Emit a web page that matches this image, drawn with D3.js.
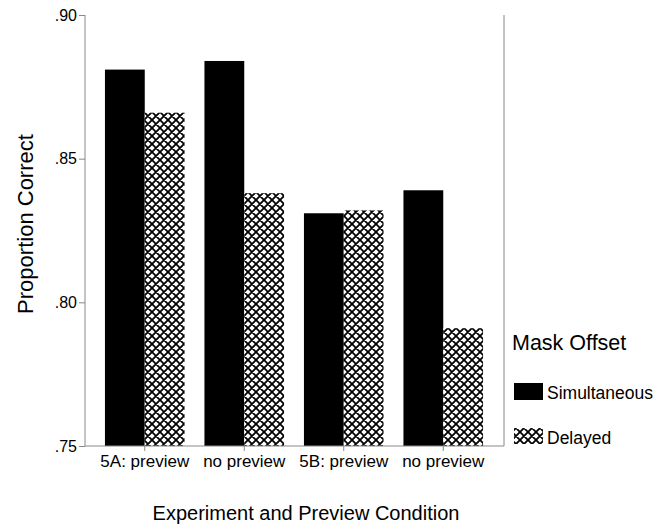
<!DOCTYPE html>
<html><head><meta charset="utf-8">
<script src="https://cdn.jsdelivr.net/npm/d3@7"></script>
<style>body{margin:0;background:#fff}svg{display:block}text{font-family:"Liberation Sans",Arial,sans-serif}</style>
</head><body><div id="chart"></div>
<script>
const categories = ["5A: preview", "no preview", "5B: preview", "no preview"];
const seriesNames = ["Simultaneous", "Delayed"];
const simultaneous = [0.881, 0.884, 0.831, 0.839];
const delayed = [0.866, 0.838, 0.832, 0.791];
const yTicks = [0.75, 0.80, 0.85, 0.90];
const yTickLabels = [".75", ".80", ".85", ".90"];

const W = 666, H = 525;
const svg = d3.select("#chart").append("svg").attr("width", W).attr("height", H);
const defs = svg.append("defs");
const pat = defs.append("pattern").attr("id","hatch").attr("patternUnits","userSpaceOnUse")
  .attr("width",8).attr("height",8);
pat.append("rect").attr("width",8).attr("height",8).attr("fill","#fff");
pat.append("path").attr("d","M-2,2 L2,-2 M0,8 L8,0 M6,10 L10,6 M-2,6 L2,10 M0,0 L8,8 M6,-2 L10,2")
  .attr("stroke","#000").attr("stroke-width",1.8);

const x0 = 85, x1 = 504, yTop = 15, yBot = 446;
const x = d3.scaleBand().domain(d3.range(categories.length)).range([95, 493]).paddingInner(0.2).paddingOuter(0.1);
const xs = d3.scaleBand().domain([0,1]).range([0, x.bandwidth()]);
const y = d3.scaleLinear().domain([0.75, 0.90]).range([yBot, yTop]);

const series = [simultaneous, delayed];
const fills = ["#000", "url(#hatch)"];
series.forEach((vals, si) => {
  svg.append("g").selectAll("rect").data(vals).join("rect")
    .attr("x", (d,i) => x(i) + xs(si))
    .attr("width", xs.bandwidth())
    .attr("y", d => y(d))
    .attr("height", d => yBot - y(d))
    .attr("fill", fills[si]);
});

// axes
const axisColor = "#888";
const yAxis = svg.append("g").attr("transform", `translate(${x0},0)`)
  .call(d3.axisLeft(y).tickValues(yTicks).tickFormat((d,i)=>yTickLabels[i]).tickSize(6).tickPadding(2));
yAxis.select(".domain").remove();
yAxis.append("line").attr("x1",0).attr("x2",0).attr("y1",yTop).attr("y2",yBot).attr("stroke",axisColor);
yAxis.selectAll(".tick line").attr("stroke", axisColor);
yAxis.selectAll(".tick text").attr("font-size", 16).attr("fill","#000").attr("font-family","Liberation Sans, Arial, sans-serif");

const xAxis = svg.append("g").attr("transform", `translate(0,${yBot})`)
  .call(d3.axisBottom(x).tickFormat(i => categories[i]).tickSize(5).tickPadding(4));
xAxis.select(".domain").remove();
xAxis.append("line").attr("x1",x0).attr("x2",x1).attr("y1",0).attr("y2",0).attr("stroke",axisColor);
xAxis.selectAll(".tick line").attr("stroke", axisColor);
xAxis.selectAll(".tick text").attr("font-size", 17).attr("fill","#000").attr("font-family","Liberation Sans, Arial, sans-serif");

svg.append("line").attr("x1",x1).attr("x2",x1).attr("y1",yTop).attr("y2",yBot).attr("stroke",axisColor);

// titles
svg.append("text").attr("transform","translate(33,224) rotate(-90)").attr("text-anchor","middle")
  .attr("font-size",22).text("Proportion Correct");
svg.append("text").attr("x",306).attr("y",520).attr("text-anchor","middle")
  .attr("font-size",20).text("Experiment and Preview Condition");

// legend
svg.append("text").attr("x",512).attr("y",350).attr("font-size",21.5).text("Mask Offset");
const leg = svg.append("g");
const legY = [383, 428];
seriesNames.forEach((n,i) => {
  const ly = legY[i];
  leg.append("rect").attr("x",514).attr("y",ly).attr("width",29).attr("height",i===0?17:16).attr("fill",fills[i]);
  leg.append("text").attr("x",547).attr("y",ly+16).attr("font-size",17.5).text(n);
});
</script></body></html>
